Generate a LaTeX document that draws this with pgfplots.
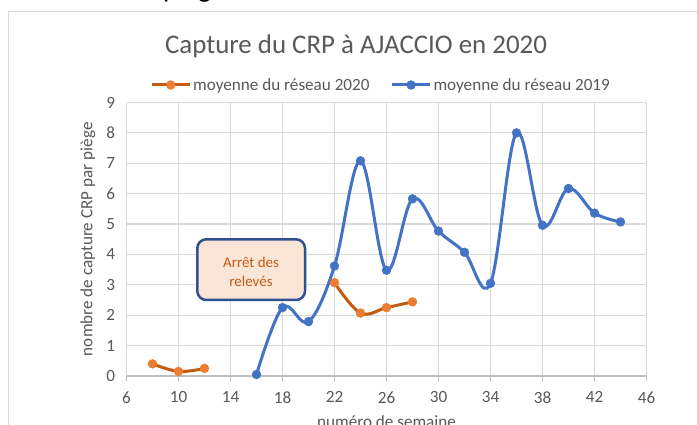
\documentclass[border=0pt]{standalone}
\usepackage{pgfplots}
\pgfplotsset{compat=1.18}
\usepackage{fontspec}
\setmainfont{Carlito}
\definecolor{txt}{HTML}{595959}
\definecolor{grd}{HTML}{D9D9D9}
\definecolor{axl}{HTML}{BFBFBF}
\definecolor{orl}{HTML}{C55A11}
\definecolor{orm}{HTML}{ED7D31}
\definecolor{blu}{HTML}{4472C4}
\definecolor{boxfill}{HTML}{FBE5D6}
\definecolor{boxdraw}{HTML}{2F528F}
\begin{document}
\begin{tikzpicture}
\useasboundingbox (0,0) rectangle (697bp,425bp);
\fill[white] (0,0) rectangle (697bp,425bp);
\draw[grd, line width=1.2bp] (8.5bp,-20bp) -- (8.5bp,413.5bp) -- (720bp,413.5bp);
\node[anchor=base west, font=\fontsize{28}{32}\selectfont, inner sep=0, text=black] at (163bp,427bp) {piège};
\node[anchor=base, font=\fontsize{27}{32}\selectfont, text=txt, inner sep=0] at (356bp,371bp) {Capture du CRP à AJACCIO en 2020};
\begin{axis}[
  at={(126.5bp,49bp)}, anchor=south west,
  scale only axis, width=520bp, height=273.5bp,
  xmin=6, xmax=46, ymin=0, ymax=9,
  xtick={6,10,...,46}, ytick={0,1,...,9},
  grid=major, grid style={draw=grd, line width=1.2bp},
  axis x line*=bottom, axis y line*=left,
  x axis line style={draw=axl, line width=1.2bp, -},
  y axis line style={draw=none, -},
  xtick style={draw=axl, line width=1.2bp},
  ytick style={draw=none},
  tick align=outside, major tick length=5bp,
  ticklabel style={font=\fontsize{17.2}{20}\selectfont, text=txt},
  xticklabel style={yshift=-7bp},
  yticklabel style={xshift=-3bp},
  /pgf/number format/assume math mode=true,
  xlabel={numéro de semaine}, ylabel={nombre de capture CRP par piège},
  label style={font=\fontsize{17.2}{20}\selectfont, text=txt},
  xlabel style={at={(axis description cs:0.5,-0.168)}, anchor=center},
  ylabel style={at={(axis description cs:-0.074,0.5)}, anchor=center},
  legend columns=2,
  legend style={at={(axis description cs:0.4895,1.064)}, anchor=center, draw=none, fill=none,
    font=\fontsize{17.2}{20}\selectfont, text=txt,
    /tikz/every even column/.append style={column sep=19bp}},
  legend image code/.code={\draw[mark repeat=2,mark phase=2,#1] plot coordinates {(0bp,0bp) (19bp,0bp) (38bp,0bp)};},
  clip=false,
]
\addplot[orl, line width=3bp, smooth, tension=0.6, mark=*, mark size=4.4bp,
  mark options={fill=orm, draw=orm, line width=0.5bp}]
  coordinates {(8,0.4) (10,0.15) (12,0.25)};
\addlegendentry{moyenne du réseau 2020}
\addplot[orl, line width=3bp, smooth, tension=0.6, mark=*, mark size=4.4bp,
  mark options={fill=orm, draw=orm, line width=0.5bp}, forget plot]
  coordinates {(22,3.07) (24,2.07) (26,2.25) (28,2.44)};
\addplot[blu, line width=3bp, smooth, tension=0.6, mark=*, mark size=4.4bp,
  mark options={fill=blu, draw=blu, line width=0.5bp}]
  coordinates {(16,0.05) (18,2.25) (20,1.79) (22,3.62) (24,7.08) (26,3.48) (28,5.83) (30,4.77) (32,4.07) (34,3.05) (36,8.0) (38,4.96) (40,6.17) (42,5.36) (44,5.07)};
\addlegendentry{moyenne du réseau 2019}
\end{axis}
\draw[boxdraw, fill=boxfill, line width=2.5bp, rounded corners=9bp] (197.3bp,185.7bp) rectangle (305bp,125bp);
\node[align=center, font=\fontsize{15}{19}\selectfont, text=orl, inner sep=0] at (251bp,153bp) {Arrêt des\\relevés};
\end{tikzpicture}
\end{document}
